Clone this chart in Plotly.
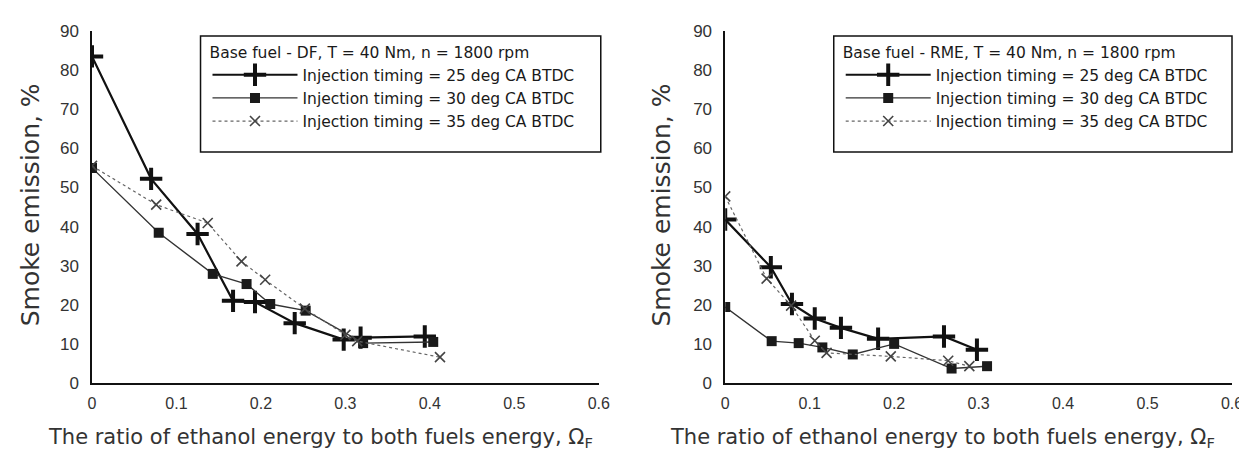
import plotly.graph_objects as go

# ---------------- data ----------------
left_x25 = [0, 0.070, 0.125, 0.167, 0.193, 0.240, 0.298, 0.318, 0.394]
left_y25 = [83.5, 52.2, 38.1, 21.0, 20.7, 15.3, 11.1, 11.6, 11.9]
left_x30 = [0, 0.079, 0.143, 0.183, 0.211, 0.253, 0.321, 0.404]
left_y30 = [55.0, 38.4, 27.9, 25.3, 20.2, 18.5, 10.2, 10.5]
left_x35 = [0, 0.076, 0.137, 0.177, 0.205, 0.252, 0.300, 0.314, 0.412]
left_y35 = [55.5, 45.6, 40.9, 31.1, 26.4, 19.0, 12.3, 10.7, 6.6]

right_x25 = [0, 0.054, 0.079, 0.106, 0.137, 0.181, 0.259, 0.298]
right_y25 = [41.8, 29.6, 20.2, 16.5, 14.1, 11.3, 11.9, 8.5]
right_x30 = [0, 0.055, 0.087, 0.115, 0.151, 0.200, 0.268, 0.310]
right_y30 = [19.4, 10.7, 10.2, 9.1, 7.3, 10.0, 3.7, 4.3]
right_x35 = [0, 0.049, 0.078, 0.106, 0.120, 0.196, 0.264, 0.289]
right_y35 = [47.7, 26.7, 19.8, 10.8, 7.7, 6.8, 5.7, 4.3]

series_names = ["Injection timing = 25 deg CA BTDC",
                "Injection timing = 30 deg CA BTDC",
                "Injection timing = 35 deg CA BTDC"]
legend_titles = ["Base fuel - DF, T = 40 Nm, n = 1800 rpm",
                 "Base fuel - RME, T = 40 Nm, n = 1800 rpm"]
x_ticks = [0, 0.1, 0.2, 0.3, 0.4, 0.5, 0.6]
x_ticktext = ["0", "0.1", "0.2", "0.3", "0.4", "0.5", "0.6"]
y_ticks = [0, 10, 20, 30, 40, 50, 60, 70, 80, 90]
x_title = "The ratio of ethanol energy to both fuels energy, Ω<sub>F</sub>"
y_title = "Smoke emission, %"

# ---------------- styles ----------------
styles = [
    dict(line=dict(color="#111111", width=2.2, dash="solid"),
         marker=dict(symbol="cross-thin", size=16, line=dict(color="#111111", width=4))),
    dict(line=dict(color="#333333", width=1.4, dash="solid"),
         marker=dict(symbol="square", size=10, color="#1a1a1a")),
    dict(line=dict(color="#666666", width=1.2, dash="dot"),
         marker=dict(symbol="x-thin", size=10, line=dict(color="#444444", width=1.6))),
]

fig = go.Figure()
panels = [
    ("x", "y", "legend", [(left_x25, left_y25), (left_x30, left_y30), (left_x35, left_y35)]),
    ("x2", "y2", "legend2", [(right_x25, right_y25), (right_x30, right_y30), (right_x35, right_y35)]),
]
for xa, ya, lg, data in panels:
    for (xs, ys), name, st in zip(data, series_names, styles):
        fig.add_trace(go.Scatter(x=xs, y=ys, mode="lines+markers", name=name,
                                 xaxis=xa, yaxis=ya, legend=lg,
                                 line=st["line"], marker=st["marker"]))

W, H = 1247, 450
L, R, T, B = 84, 18, 23, 75
pw = W - L - R
ph = H - T - B

def px2x(p):
    return (p - L) / pw

def px2y(p):
    return (H - B - p) / ph

xtick_font = dict(family="Arial, Liberation Sans, sans-serif", size=16, color="#333333")
ytick_font = dict(family="Arial, Liberation Sans, sans-serif", size=17, color="#333333")
axis_common = dict(showgrid=False, zeroline=False, showline=True, linecolor="#111111",
                   ticks="", fixedrange=True)
leg_font = dict(family="DejaVu Sans", size=15.5, color="#1a1a1a")
title_font = dict(family="DejaVu Sans", size=21, color="#333333")
ytitle_font = dict(family="DejaVu Sans", size=25, color="#333333")

def legend_cfg(x_px, title):
    return dict(x=px2x(x_px), y=px2y(30), xanchor="left", yanchor="top",
                bgcolor="rgba(0,0,0,0)", borderwidth=0,
                title=dict(text=title, font=leg_font),
                font=leg_font, itemwidth=85, tracegroupgap=0)

fig.update_layout(
    width=W, height=H,
    margin=dict(l=L, r=R, t=T, b=B),
    paper_bgcolor="white", plot_bgcolor="white",
    xaxis=dict(domain=[0, px2x(593)], range=[0, 0.6], tickvals=x_ticks, ticktext=x_ticktext,
               anchor="y", linewidth=2, ticklabelstandoff=5, tickfont=xtick_font, **axis_common),
    yaxis=dict(domain=[0, 1], range=[0, 90], tickvals=y_ticks, anchor="x",
               linewidth=1.5, ticklabelstandoff=8, tickfont=ytick_font, **axis_common),
    xaxis2=dict(domain=[px2x(720), 1], range=[0, 0.6], tickvals=x_ticks, ticktext=x_ticktext,
                anchor="y2", linewidth=2, ticklabelstandoff=5, tickfont=xtick_font, **axis_common),
    yaxis2=dict(domain=[0, 1], range=[0, 90], tickvals=y_ticks, anchor="x2",
                linewidth=1.5, ticklabelstandoff=8, tickfont=ytick_font, **axis_common),
    showlegend=True,
    legend=legend_cfg(200, legend_titles[0]),
    legend2=legend_cfg(836, legend_titles[1]),
    shapes=[
        dict(type="rect", xref="paper", yref="paper", x0=px2x(193), x1=px2x(595),
             y0=px2y(144), y1=px2y(28), line=dict(color="#111111", width=1.5)),
        dict(type="rect", xref="paper", yref="paper", x0=px2x(829), x1=px2x(1229),
             y0=px2y(144), y1=px2y(28), line=dict(color="#111111", width=1.5)),
    ],
    annotations=[
        dict(text=x_title, xref="paper", yref="paper", x=px2x(314), y=px2y(430),
             xanchor="center", yanchor="middle", showarrow=False, font=title_font),
        dict(text=x_title, xref="paper", yref="paper", x=px2x(938), y=px2y(430),
             xanchor="center", yanchor="middle", showarrow=False, font=title_font),
        dict(text=y_title, xref="paper", yref="paper", x=px2x(23), y=px2y(197),
             xanchor="center", yanchor="middle", showarrow=False, textangle=-90,
             font=ytitle_font),
        dict(text=y_title, xref="paper", yref="paper", x=px2x(657), y=px2y(197),
             xanchor="center", yanchor="middle", showarrow=False, textangle=-90,
             font=ytitle_font),
    ],
)

fig.write_html("out.html")
